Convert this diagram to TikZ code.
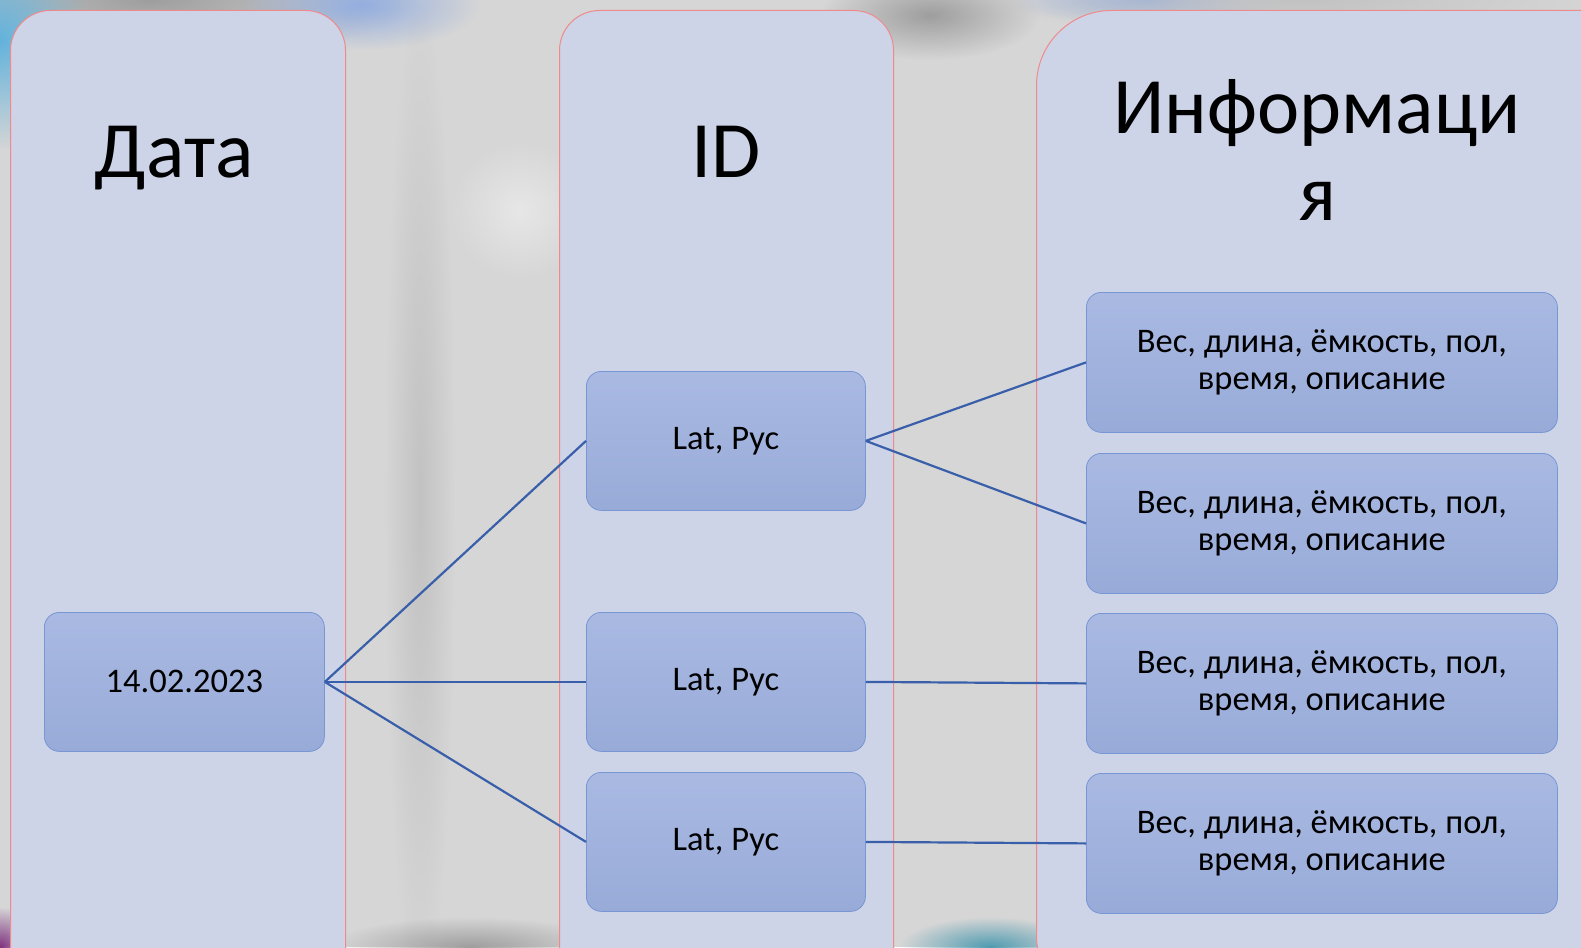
\documentclass[tikz,border=0pt]{standalone}
\usepackage{fontspec}
\setmainfont{Carlito}
\usetikzlibrary{fadings}
\definecolor{bggray}{HTML}{D6D6D6}
\definecolor{bgdark}{HTML}{9E9E9E}
\definecolor{bgmid}{HTML}{C2C2C2}
\definecolor{bgblue}{HTML}{93AEE0}
\definecolor{bgcyan}{HTML}{62B2DC}
\definecolor{bgteal}{HTML}{4F9BB0}
\definecolor{colfill}{HTML}{CED4E8}
\definecolor{colborder}{HTML}{F08A8A}
\definecolor{boxtop}{HTML}{A9B9E2}
\definecolor{boxbot}{HTML}{98ABD8}
\definecolor{boxborder}{HTML}{7896D4}
\definecolor{conncol}{HTML}{3A5FAA}
\tikzfading[name=softblob, inner color=transparent!0, outer color=transparent!100]
\tikzset{
  blob/.style={path fading=softblob},
  column/.style={draw=colborder, line width=1pt, fill=colfill, rounded corners=40pt, anchor=north west, inner sep=0pt},
  bigcolumn/.style={column, rounded corners=75pt},
  title/.style={font=\fontsize{80}{82}\selectfont, align=center, inner sep=0pt, anchor=base},
  sbox/.style={draw=boxborder, line width=0.8pt, top color=boxtop, bottom color=boxbot, rounded corners=15pt, anchor=north west, inner sep=0pt},
  btext/.style={font=\fontsize{34.5}{37}\selectfont, align=center, inner sep=0pt},
  conn/.style={draw=conncol, line width=2.2pt}
}
\begin{document}
\begin{tikzpicture}[x=1pt,y=-1pt]
\useasboundingbox (0,0) rectangle (1581,947);
\clip (0,0) rectangle (1581,947);
% background (blurred screenshot)
\fill[bggray] (0,0) rectangle (1581,947);
\fill[bgdark, blob] (150,0) ellipse (260pt and 60pt);
\fill[bgcyan, blob] (0,40) ellipse (90pt and 110pt);
\fill[bgblue, blob] (360,5) ellipse (120pt and 45pt);
\fill[bgdark, blob] (930,15) ellipse (110pt and 45pt);
\fill[bgblue, blob] (1150,0) ellipse (140pt and 25pt);
\fill[bgmid, blob] (1300,0) ellipse (300pt and 40pt);
\fill[bgmid, blob] (420,500) ellipse (35pt and 500pt);
\fill[white!40!bggray, blob] (520,210) ellipse (70pt and 70pt);
\fill[bgdark, blob] (470,947) ellipse (140pt and 30pt);
\fill[bgteal, blob] (990,947) ellipse (90pt and 30pt);
\fill[violet!60!gray, blob] (0,947) ellipse (40pt and 40pt);
% columns
\node[column, minimum width=335pt, minimum height=1000pt] (c1) at (10,10) {};
\node[column, minimum width=334pt, minimum height=1000pt] (c2) at (559,10) {};
\node[bigcolumn, minimum width=620pt, minimum height=1000pt] (c3) at (1036,10) {};
% titles
\node[title] (t1) at (174,177) {Дата};
\node[title] (t2) at (726,177) {ID};
\node[title] (t3a) at (1317,134) {Информаци};
\node[title] (t3b) at (1317,220) {я};
% boxes
\node[sbox, minimum width=280pt, minimum height=139pt] (d) at (44,612) {};
\node[btext] at (d.center) {14.02.2023};
\node[sbox, minimum width=279pt, minimum height=139pt] (l1) at (586,371) {};
\node[btext] at (l1.center) {Lat, Pyc};
\node[sbox, minimum width=279pt, minimum height=139pt] (l2) at (586,612) {};
\node[btext] at (l2.center) {Lat, Pyc};
\node[sbox, minimum width=279pt, minimum height=139pt] (l3) at (586,772) {};
\node[btext] at (l3.center) {Lat, Pyc};
\node[sbox, minimum width=471pt, minimum height=140pt] (i1) at (1086,292) {};
\node[btext] at (i1.center) {Вес, длина, ёмкость, пол,\\время, описание};
\node[sbox, minimum width=471pt, minimum height=140pt] (i2) at (1086,453) {};
\node[btext] at (i2.center) {Вес, длина, ёмкость, пол,\\время, описание};
\node[sbox, minimum width=471pt, minimum height=140pt] (i3) at (1086,613) {};
\node[btext] at (i3.center) {Вес, длина, ёмкость, пол,\\время, описание};
\node[sbox, minimum width=471pt, minimum height=140pt] (i4) at (1086,773) {};
\node[btext] at (i4.center) {Вес, длина, ёмкость, пол,\\время, описание};
% connectors
\draw[conn] (d.east) -- (l1.west);
\draw[conn] (d.east) -- (l2.west);
\draw[conn] (d.east) -- (l3.west);
\draw[conn] (l1.east) -- (i1.west);
\draw[conn] (l1.east) -- (i2.west);
\draw[conn] (l2.east) -- (i3.west);
\draw[conn] (l3.east) -- (i4.west);
\end{tikzpicture}
\end{document}
